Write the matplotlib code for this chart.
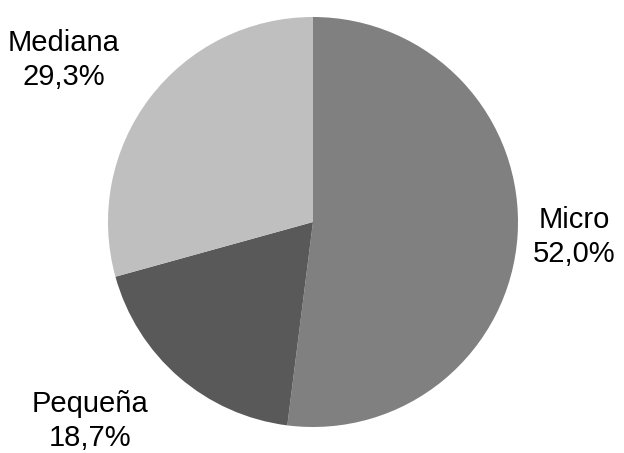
import matplotlib
matplotlib.use("Agg")
import matplotlib.pyplot as plt

categorias = ["Micro", "Pequeña", "Mediana"]
valores = [52.0, 18.7, 29.3]
colores = ["#808080", "#595959", "#bfbfbf"]

# posiciones de las etiquetas (pixeles, origen arriba-izquierda)
pos_etiquetas = [(574, 237), (90, 421), (64, 60)]

W, H = 624, 453
fig = plt.figure(figsize=(W / 100, H / 100), dpi=100)
ax = fig.add_axes([0, 0, 1, 1])

ax.pie(valores, colors=colores, startangle=90, counterclock=False,
       center=(313, H - 222), radius=205, frame=True)
ax.set_xlim(0, W)
ax.set_ylim(0, H)
ax.set_aspect("equal")
ax.axis("off")

for cat, val, (x, y) in zip(categorias, valores, pos_etiquetas):
    txt = cat + "\n" + ("%.1f%%" % val).replace(".", ",")
    ax.text(x, H - y, txt, ha="center", va="center", fontsize=21,
            family="Liberation Sans", linespacing=1.25)

fig.savefig("out.png", dpi=100, facecolor="white")
